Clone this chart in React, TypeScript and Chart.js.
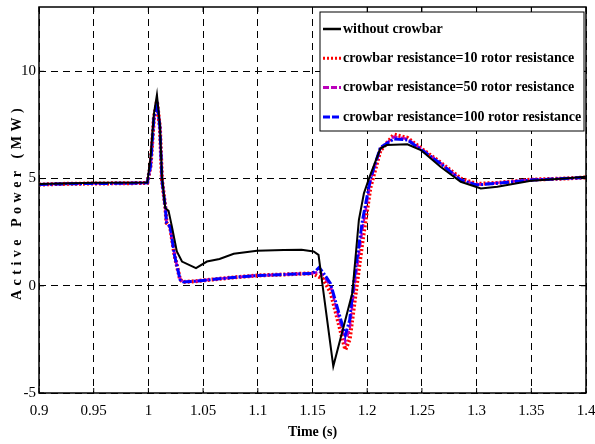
import React, { useEffect, useRef } from "react";
import { Chart, registerables } from "chart.js";

Chart.register(...registerables);

const xTicks = [0.9, 0.95, 1, 1.05, 1.1, 1.15, 1.2, 1.25, 1.3, 1.35, 1.4];
const xTickLabels = ["0.9", "0.95", "1", "1.05", "1.1", "1.15", "1.2", "1.25", "1.3", "1.35", "1.4"];
const yTicks = [-5, 0, 5, 10];
const yTickLabels = ["-5", "0", "5", "10"];

const seriesLabels = [
  "without crowbar",
  "crowbar resistance=10 rotor resistance",
  "crowbar resistance=50 rotor resistance",
  "crowbar resistance=100 rotor resistance",
];
const seriesColors = ["#000000", "#ff0000", "#bb00bb", "#0000ff"];

const timeBlack = [
  0.9, 0.95, 0.999, 1.002, 1.005, 1.0078, 1.0105, 1.0124, 1.0154, 1.0184, 1.0215, 1.026, 1.0307,
  1.0435, 1.0535, 1.065, 1.078, 1.0993, 1.1237, 1.14, 1.151, 1.1555, 1.169, 1.1864, 1.1924, 1.197,
  1.2016, 1.212, 1.218, 1.2367, 1.249, 1.267, 1.2855, 1.3039, 1.319, 1.3497, 1.38, 1.4,
];
const powerBlack = [
  4.75, 4.8, 4.82, 6.0, 8.0, 8.9, 7.5, 5.08, 3.63, 3.5, 2.76, 1.6, 1.13,
  0.82, 1.13, 1.25, 1.49, 1.63, 1.67, 1.68, 1.6, 1.44, -3.75, -0.34, 3.07, 4.31,
  5.0, 6.4, 6.56, 6.6, 6.33, 5.55, 4.85, 4.54, 4.62, 4.9, 5.0, 5.08,
];

const timeCrowbar = [
  0.9, 0.92, 0.95, 0.98, 0.999, 1.002, 1.005, 1.0078, 1.0105, 1.0124, 1.0154, 1.0166, 1.0198, 1.024,
  1.029, 1.032, 1.04, 1.05, 1.06, 1.08, 1.1, 1.12, 1.14, 1.15, 1.153, 1.156, 1.16, 1.1665, 1.1726,
  1.18, 1.184, 1.1878, 1.1955, 1.203, 1.212, 1.2245, 1.2367, 1.252, 1.267, 1.2855, 1.3, 1.319,
  1.35, 1.38, 1.4,
];
const power10 = [
  4.72, 4.75, 4.77, 4.78, 4.8, 5.6, 7.8, 8.6, 7.4, 4.93, 3.69, 2.93, 2.76, 1.4,
  0.28, 0.18, 0.2, 0.25, 0.3, 0.4, 0.48, 0.52, 0.56, 0.58, 0.5, 0.42, 0.3, -0.3, -1.5,
  -2.98, -2.5, -1.0, 2.0, 4.6, 6.3, 7.05, 6.9, 6.3, 5.75, 5.0, 4.75, 4.8,
  4.95, 5.0, 5.05,
];
const power50 = [
  4.72, 4.75, 4.77, 4.78, 4.8, 5.6, 7.8, 8.6, 7.4, 4.93, 3.69, 2.93, 2.76, 1.4,
  0.28, 0.18, 0.2, 0.25, 0.3, 0.4, 0.48, 0.52, 0.56, 0.58, 0.62, 0.7, 0.45, 0.0, -1.2,
  -2.6, -2.0, -0.2, 2.6, 4.9, 6.4, 6.95, 6.85, 6.28, 5.72, 4.95, 4.72, 4.8,
  4.95, 5.0, 5.05,
];
const power100 = [
  4.72, 4.75, 4.77, 4.78, 4.8, 5.6, 7.8, 8.6, 7.4, 4.93, 3.69, 2.93, 2.76, 1.4,
  0.28, 0.18, 0.2, 0.25, 0.3, 0.4, 0.48, 0.52, 0.56, 0.58, 0.7, 0.85, 0.6, 0.1, -1.0,
  -2.3, -1.6, 0.2, 3.0, 5.0, 6.45, 6.85, 6.8, 6.25, 5.7, 4.93, 4.7, 4.78,
  4.93, 5.0, 5.05,
];

const xTitle = "Time (s)";
const yTitle = "Active Power (MW)";

const toPoints = (xs: number[], ys: number[]) => xs.map((x, i) => ({ x, y: ys[i] }));

const serif = "'Liberation Serif', 'Times New Roman', serif";

const decorPlugin = {
  id: "decor",
  afterDraw(chart: any) {
    const { ctx, chartArea } = chart;
    const { left, right, top, bottom } = chartArea;
    const xs = chart.scales.x;
    const ys = chart.scales.y;
    ctx.save();
    // frame
    ctx.setLineDash([]);
    ctx.strokeStyle = "#000";
    ctx.lineWidth = 1.5;
    ctx.strokeRect(left, top, right - left, bottom - top);
    // inner ticks
    ctx.lineWidth = 1;
    const tl = 5;
    ctx.beginPath();
    xTicks.forEach((v) => {
      const px = xs.getPixelForValue(v);
      ctx.moveTo(px, bottom);
      ctx.lineTo(px, bottom - tl);
      ctx.moveTo(px, top);
      ctx.lineTo(px, top + tl);
    });
    yTicks.forEach((v) => {
      const py = ys.getPixelForValue(v);
      ctx.moveTo(left, py);
      ctx.lineTo(left + tl, py);
      ctx.moveTo(right, py);
      ctx.lineTo(right - tl, py);
    });
    ctx.stroke();

    // axis titles
    ctx.fillStyle = "#000";
    ctx.font = `bold 14px ${serif}`;
    ctx.textAlign = "center";
    ctx.textBaseline = "middle";
    ctx.fillText(xTitle, (left + right) / 2, 432);
    ctx.save();
    ctx.translate(17, 204);
    ctx.rotate(-Math.PI / 2);
    (ctx as any).letterSpacing = "4.5px";
    ctx.fillText(yTitle, 2, 0);
    ctx.restore();

    // legend
    const lx = right - 266;
    const ly = top + 5;
    const lw = 264;
    const lh = 119;
    ctx.fillStyle = "#fff";
    ctx.fillRect(lx, ly, lw, lh);
    ctx.strokeStyle = "#000";
    ctx.lineWidth = 1;
    ctx.setLineDash([]);
    ctx.strokeRect(lx, ly, lw, lh);
    const dashes = [[], [2, 2], [6, 2], [7, 2]];
    const widths = [2.5, 3, 3, 3];
    seriesLabels.forEach((label, i) => {
      const y = ly + 17 + i * 29.3;
      ctx.beginPath();
      ctx.setLineDash(dashes[i]);
      ctx.strokeStyle = seriesColors[i];
      ctx.lineWidth = widths[i];
      ctx.moveTo(lx + 3, y);
      ctx.lineTo(lx + 21, y);
      ctx.stroke();
      ctx.setLineDash([]);
      ctx.fillStyle = "#000";
      ctx.font = `bold 14px ${serif}`;
      ctx.textAlign = "left";
      ctx.textBaseline = "middle";
      ctx.fillText(label, lx + 23, y);
    });
    ctx.restore();
  },
};

export default function App() {
  const ref = useRef<HTMLCanvasElement | null>(null);
  useEffect(() => {
    document.body.style.margin = "0";
    const canvas = ref.current!;
    const chart = new Chart(canvas, {
      type: "line",
      data: {
        datasets: [
          {
            label: seriesLabels[0],
            data: toPoints(timeBlack, powerBlack),
            borderColor: seriesColors[0],
            borderWidth: 2,
            pointRadius: 0,
            tension: 0,
            order: 1,
          },
          {
            label: seriesLabels[1],
            data: toPoints(timeCrowbar, power10),
            borderColor: seriesColors[1],
            borderWidth: 4,
            borderDash: [2, 2],
            pointRadius: 0,
            tension: 0,
            order: 4,
          },
          {
            label: seriesLabels[2],
            data: toPoints(timeCrowbar, power50),
            borderColor: seriesColors[2],
            borderWidth: 2.5,
            borderDash: [6, 3],
            pointRadius: 0,
            tension: 0,
            order: 3,
          },
          {
            label: seriesLabels[3],
            data: toPoints(timeCrowbar, power100),
            borderColor: seriesColors[3],
            borderWidth: 3,
            borderDash: [9, 2, 2, 2],
            pointRadius: 0,
            tension: 0,
            order: 2,
          },
        ],
      },
      options: {
        animation: false,
        responsive: false,
        layout: { padding: { left: 0, top: 7, right: 9, bottom: 0 } },
        plugins: { legend: { display: false }, tooltip: { enabled: false } },
        scales: {
          x: {
            type: "linear",
            min: 0.9,
            max: 1.4,
            afterBuildTicks: (s: any) => {
              s.ticks = xTicks.map((v) => ({ value: v }));
            },
            afterFit: (s: any) => {
              s.height = 51;
              s.paddingLeft = 0;
              s.paddingRight = 0;
              s.paddingTop = 0;
              s.paddingBottom = 0;
            },
            ticks: {
              autoSkip: false,
              maxRotation: 0,
              padding: 9,
              color: "#000",
              font: { family: serif, size: 15 },
              callback: (v: any) => {
                const i = xTicks.findIndex((t) => Math.abs(t - Number(v)) < 1e-6);
                return i >= 0 ? xTickLabels[i] : "";
              },
            },
            grid: { color: "#000", lineWidth: 1, drawTicks: false },
            border: { display: false, dash: [7, 5] },
          },
          y: {
            type: "linear",
            min: -5,
            max: 13,
            afterBuildTicks: (s: any) => {
              s.ticks = yTicks.map((v) => ({ value: v }));
            },
            afterFit: (s: any) => {
              s.width = 39;
              s.paddingLeft = 0;
              s.paddingRight = 0;
              s.paddingTop = 0;
              s.paddingBottom = 0;
            },
            ticks: {
              padding: 3,
              color: "#000",
              font: { family: serif, size: 15 },
              callback: (v: any) => {
                const i = yTicks.findIndex((t) => Math.abs(t - Number(v)) < 1e-6);
                return i >= 0 ? yTickLabels[i] : "";
              },
            },
            grid: { color: "#000", lineWidth: 1, drawTicks: false },
            border: { display: false, dash: [7, 5] },
          },
        },
      },
      plugins: [decorPlugin],
    });
    return () => chart.destroy();
  }, []);
  return (
    <canvas
      ref={ref}
      width={595}
      height={444}
      style={{ display: "block", width: "595px", height: "444px", background: "#fff" }}
    />
  );
}
